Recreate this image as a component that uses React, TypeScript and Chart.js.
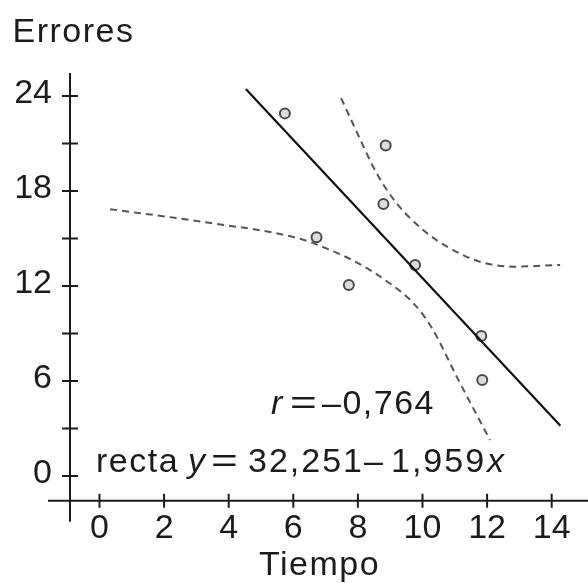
import { useEffect, useRef } from "react";
import { Chart, registerables } from "chart.js";

Chart.register(...registerables);

// ---- data ----
const X_TICKS = [0, 2, 4, 6, 8, 10, 12, 14];
const Y_TICKS = [0, 3, 6, 9, 12, 15, 18, 21, 24];
const Y_LABEL_STEP = 6;
const X_MIN = -0.913;
const X_MAX = 15.124;
const Y_MIN = -1.56;
const Y_MAX = 25.45;

const OBS_X = [5.74, 6.72, 7.72, 8.79, 8.86, 9.77, 11.82, 11.85];
const OBS_Y = [22.9, 15.08, 12.06, 17.18, 20.87, 13.33, 8.84, 6.06];

const FIT_X = [4.53, 14.27];
const FIT_Y = [24.44, 3.18];

const UPPER_X = [7.48, 7.96, 8.58, 9.2, 10.02, 10.85, 11.78, 12.81, 14.26];
const UPPER_Y = [23.86, 21.75, 19.12, 17.22, 15.54, 14.38, 13.53, 13.22, 13.33];

const LOWER_X = [0.33, 3.11, 6.21, 7.14, 8.0, 8.93, 9.71, 10.29, 11.06, 12.09];
const LOWER_Y = [16.85, 16.07, 14.98, 14.27, 13.45, 12.25, 10.93, 9.35, 6.27, 2.27];

const Y_TITLE = "Errores";
const X_TITLE = "Tiempo";

const INK = "#1c1c1c";
const FONT_FAMILY = '"Liberation Sans", Arial, Helvetica, sans-serif';
const FONT_SIZE = 34;

const pts = (xs: number[], ys: number[]) => xs.map((x, i) => ({ x, y: ys[i] }));

const axesPlugin = {
  id: "crossAxes",
  beforeDatasetsDraw(chart: any) {
    const { ctx, chartArea } = chart;
    const xs = chart.scales.x;
    const ys = chart.scales.y;
    ctx.save();
    ctx.strokeStyle = INK;
    ctx.lineWidth = 2;
    ctx.beginPath();
    // y axis (extends below the x axis)
    ctx.moveTo(chartArea.left, chartArea.top);
    ctx.lineTo(chartArea.left, chartArea.bottom + 21);
    // x axis (extends left of the y axis)
    ctx.moveTo(chartArea.left - 22, chartArea.bottom);
    ctx.lineTo(chartArea.right, chartArea.bottom);
    for (const t of ys.ticks) {
      const py = ys.getPixelForValue(t.value);
      ctx.moveTo(chartArea.left - 8, py);
      ctx.lineTo(chartArea.left + 8, py);
    }
    for (const t of xs.ticks) {
      const px = xs.getPixelForValue(t.value);
      ctx.moveTo(px, chartArea.bottom - 7);
      ctx.lineTo(px, chartArea.bottom + 7);
    }
    ctx.stroke();
    ctx.restore();
  },
};

const textPlugin = {
  id: "annotations",
  afterDraw(chart: any) {
    const { ctx } = chart;
    ctx.save();
    ctx.fillStyle = INK;
    ctx.textAlign = "left";
    ctx.textBaseline = "alphabetic";
    const normal = `${FONT_SIZE}px ${FONT_FAMILY}`;
    const italic = `italic ${FONT_SIZE}px ${FONT_FAMILY}`;
    const put = (s: string, x: number, y: number, f: string, sx = 1, ls = 1.5) => {
      ctx.save();
      ctx.font = f;
      try {
        (ctx as any).letterSpacing = `${ls}px`;
      } catch (e) {}
      ctx.translate(x, y);
      ctx.scale(sx, 1);
      ctx.fillText(s, 0, 0);
      ctx.restore();
    };
    put(Y_TITLE, 12.5, 42, normal);
    put(X_TITLE, 259, 575, normal);
    // r = –0,764
    put("r", 271, 413.5, italic);
    put("=", 290, 413.5, normal, 1.35);
    put("–0,764", 322, 413.5, normal);
    // recta y = 32,251 – 1,959x
    put("recta", 96, 472, normal);
    put("y", 188, 472, italic);
    put("=", 211, 472, normal, 1.35);
    put("32,251", 248, 472, normal, 1, 2);
    put("–", 364, 472, normal);
    put("1,959", 391, 472, normal, 1, 2);
    put("x", 487, 472, italic);
    ctx.restore();
  },
};

export default function App() {
  const ref = useRef<HTMLCanvasElement | null>(null);
  useEffect(() => {
    if (!ref.current) return;
    const tickFont = { family: FONT_FAMILY, size: FONT_SIZE };
    const chart = new Chart(ref.current, {
      type: "scatter",
      data: {
        datasets: [
          {
            label: "Banda inferior",
            data: pts(LOWER_X, LOWER_Y),
            showLine: true,
            borderColor: "#555",
            borderWidth: 2,
            borderDash: [7, 5],
            pointRadius: 0,
            cubicInterpolationMode: "monotone",
            fill: false,
          },
          {
            label: "Banda superior",
            data: pts(UPPER_X, UPPER_Y),
            showLine: true,
            borderColor: "#555",
            borderWidth: 2,
            borderDash: [7, 5],
            pointRadius: 0,
            cubicInterpolationMode: "monotone",
            fill: false,
          },
          {
            label: "Recta",
            data: pts(FIT_X, FIT_Y),
            showLine: true,
            borderColor: "#111",
            borderWidth: 2.2,
            pointRadius: 0,
            fill: false,
          },
          {
            label: "Errores",
            data: pts(OBS_X, OBS_Y),
            showLine: false,
            pointRadius: 5,
            pointBorderWidth: 2,
            pointBorderColor: "#4a4a4a",
            pointBackgroundColor: "#dcdcdc",
          },
        ],
      },
      options: {
        animation: false,
        responsive: false,
        devicePixelRatio: 1,
        layout: { autoPadding: false, padding: { top: 73, left: 0, right: 0, bottom: 0 } },
        plugins: {
          legend: { display: false },
          tooltip: { enabled: false },
          title: { display: false },
        },
        scales: {
          x: {
            type: "linear",
            min: X_MIN,
            max: X_MAX,
            afterBuildTicks: (s: any) => {
              s.ticks = X_TICKS.map((v) => ({ value: v }));
            },
            afterFit: (s: any) => {
              s.height = 82.3;
              s.paddingLeft = 0;
              s.paddingRight = 0;
            },
            grid: { display: false, drawTicks: false },
            border: { display: false },
            ticks: {
              font: tickFont,
              color: INK,
              padding: 8,
              autoSkip: false,
              maxRotation: 0,
              callback: (v: any) => String(v),
            },
          },
          y: {
            type: "linear",
            min: Y_MIN,
            max: Y_MAX,
            afterBuildTicks: (s: any) => {
              s.ticks = Y_TICKS.map((v) => ({ value: v }));
            },
            afterFit: (s: any) => {
              s.width = 70;
              s.paddingTop = 0;
              s.paddingBottom = 0;
            },
            grid: { display: false, drawTicks: false },
            border: { display: false },
            ticks: {
              font: tickFont,
              color: INK,
              padding: 18,
              labelOffset: -2.5,
              autoSkip: false,
              callback: (v: any) => (Number(v) % Y_LABEL_STEP === 0 ? String(v) : ""),
            },
          },
        },
      },
      plugins: [axesPlugin, textPlugin],
    } as any);
    return () => chart.destroy();
  }, []);
  return (
    <div style={{ position: "absolute", left: 0, top: 0, width: 588, height: 583, background: "#fff" }}>
      <canvas ref={ref} width={588} height={583} style={{ display: "block" }} />
    </div>
  );
}
